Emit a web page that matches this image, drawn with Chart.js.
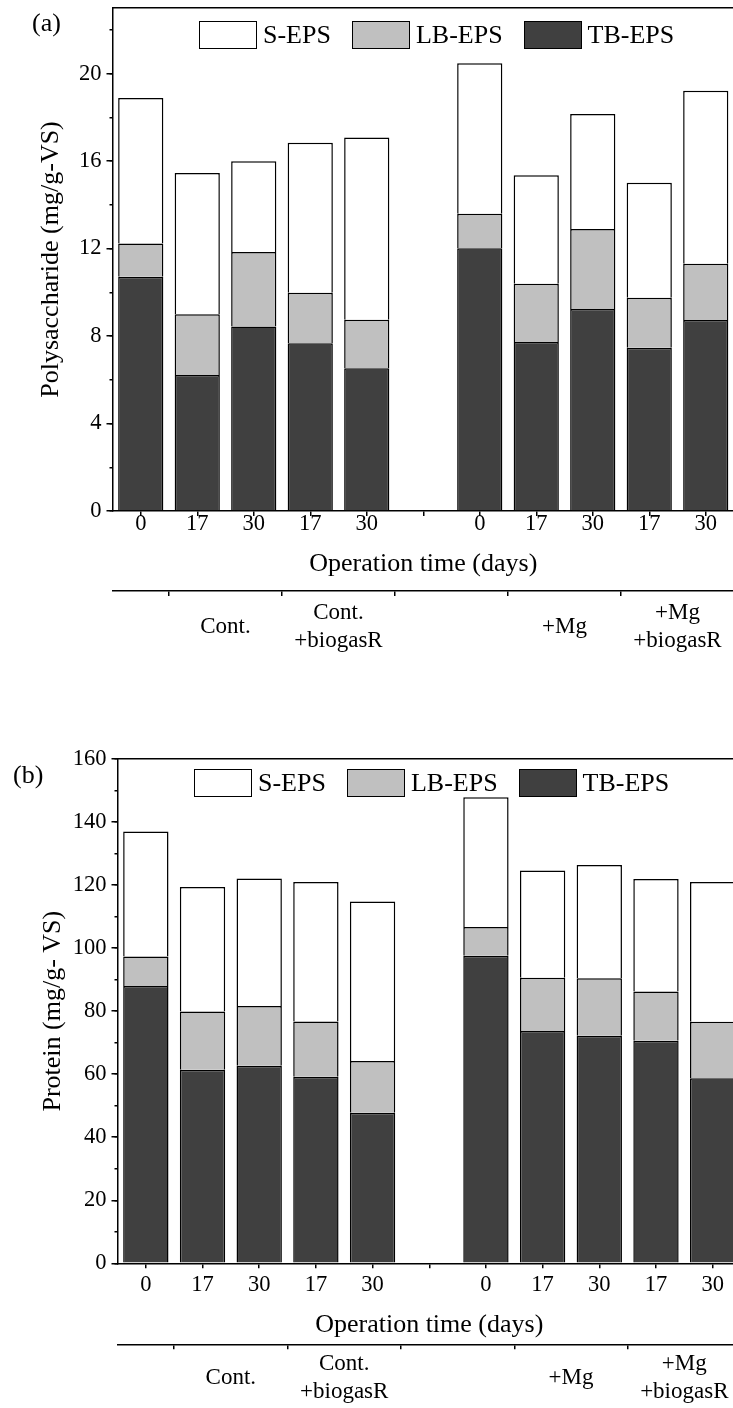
<!DOCTYPE html>
<html>
<head>
<meta charset="utf-8">
<script src="https://cdn.jsdelivr.net/npm/chart.js@4/dist/chart.umd.min.js"></script>
<style>
  html, body { margin: 0; padding: 0; background: #fff; }
  body { width: 733px; height: 1408px; overflow: hidden; position: relative; }
  .panel { position: absolute; left: 0; }
  .panel canvas { position: absolute; left: 0; top: 0; }
  .tag { position: absolute; font: 26px "Liberation Serif", "Times New Roman", serif; line-height: 30px; color: #000; }
  .legend { position: absolute; display: flex; align-items: center; white-space: nowrap;
            font: 26px "Liberation Serif", "Times New Roman", serif; color: #000; line-height: 28px; }
  .legend .item { display: flex; align-items: center; margin-right: 21px; }
  .legend .box { width: 58px; height: 28px; box-sizing: border-box; border-style: solid; margin-right: 6px; }
</style>
</head>
<body>
<div class="panel" id="panelA" style="top:0; width:734px; height:670px;">
  <canvas id="chartA" width="734" height="670"></canvas>
  <div class="legend" id="legendA"></div>
  <div class="tag" style="left:32px; top:8px;">(a)</div>
</div>
<div class="panel" id="panelB" style="top:740px; width:741px; height:668px;">
  <canvas id="chartB" width="741" height="668"></canvas>
  <div class="legend" id="legendB"></div>
  <div class="tag" style="left:13px; top:20px;">(b)</div>
</div>
<script>
// Operation time (days) for each bar; the empty slot separates the two series of reactors
const dayLabels = ['0', '17', '30', '17', '30', '', '0', '17', '30', '17', '30'];

// EPS fractions, stacked bottom to top: TB-EPS, LB-EPS, S-EPS
const seriesNames = ['TB-EPS', 'LB-EPS', 'S-EPS'];
const seriesColors = ['#404040', '#c0c0c0', '#ffffff'];

// Polysaccharide (mg/g-VS)
const polyTB = [10.71, 6.22, 8.44, 7.67, 6.53, null, 12.02, 7.73, 9.24, 7.46, 8.73];
const polyLB = [1.52, 2.78, 3.40, 2.31, 2.21, null, 1.57, 2.66, 3.65, 2.29, 2.57];
const polyS  = [6.66, 6.45, 4.15, 6.86, 8.34, null, 6.88, 4.96, 5.26, 5.26, 7.92];

// Protein (mg/g-VS)
const protTB = [88.0, 61.4, 62.7, 59.2, 47.8, null, 97.6, 73.7, 72.2, 70.6, 58.7];
const protLB = [9.3, 18.5, 18.9, 17.5, 16.4, null, 9.1, 16.9, 18.2, 15.6, 17.9];
const protS  = [39.7, 39.5, 40.5, 44.3, 50.6, null, 41.2, 34.0, 36.0, 35.7, 44.4];

// Reactor groups under the day axis: label and first/last bar index
const groupLabels = ['Cont.', ['Cont.', '+biogasR'], '+Mg', ['+Mg', '+biogasR']];
const groupFirst = [1, 3, 7, 9];
const groupLast  = [2, 4, 8, 10];

const FONT = '"Liberation Serif", "Times New Roman", serif';
const INK = '#000';
Chart.defaults.font.family = FONT;
Chart.defaults.color = INK;

const groupCenters = groupFirst.map((f, i) => (f + groupLast[i]) / 2);
const groupEdges = [...new Set(groupFirst.map(f => f - 0.5).concat(groupLast.map(l => l + 0.5)))].sort((a, b) => a - b);

function zeroPad(s) { s.paddingLeft = 0; s.paddingRight = 0; s.paddingTop = 0; s.paddingBottom = 0; }

function makeChart(canvasId, legendId, cfg) {
  const datasets = [cfg.tb, cfg.lb, cfg.s].map((vals, i) => ({
    label: seriesNames[i],
    data: vals,
    backgroundColor: seriesColors[i],
    borderColor: INK,
    borderWidth: 1.5,
    borderSkipped: 'start',
    xAxisID: 'x',
    yAxisID: 'y',
    barPercentage: 1.0,
    categoryPercentage: 0.8
  }));

  const chart = new Chart(document.getElementById(canvasId), {
    type: 'bar',
    data: { labels: dayLabels, datasets },
    options: {
      responsive: false,
      animation: false,
      layout: { padding: cfg.layoutPadding },
      plugins: { legend: { display: false }, tooltip: { enabled: false } },
      scales: {
        x: {
          type: 'category', position: 'bottom', stacked: true, offset: true, weight: 0,
          ticks: { font: { size: 22.5, lineHeight: 1.2 }, color: INK, padding: cfg.xTickPad,
                   maxRotation: 0, minRotation: 0, autoSkip: false },
          grid: { offset: false, drawOnChartArea: false, drawTicks: true, tickLength: 5,
                  color: INK, lineWidth: 1.5 },
          border: { display: true, color: INK, width: 1.5 },
          title: { display: true, text: 'Operation time (days)', color: INK,
                   font: { size: 26, lineHeight: 1.2 }, padding: { top: 0, bottom: cfg.xTitlePad } },
          afterFit: s => { s.height = cfg.xAxisHeight; zeroPad(s); }
        },
        xGroup: {
          // same -0.5 .. 10.5 span as the bar categories, so group edges fall between bars
          type: 'linear', position: 'bottom', weight: 1, min: -0.5, max: 10.5, offset: false,
          afterBuildTicks: s => {
            s.ticks = groupEdges.concat(groupCenters).sort((a, b) => a - b).map(v => ({ value: v }));
          },
          ticks: {
            callback: v => { const k = groupCenters.indexOf(v); return k >= 0 ? groupLabels[k] : ''; },
            font: { size: 23, lineHeight: 1.2 }, color: INK, padding: cfg.groupTickPad,
            maxRotation: 0, minRotation: 0, autoSkip: false, crossAlign: 'center'
          },
          grid: { offset: false, drawOnChartArea: false, drawTicks: true, tickLength: 5, lineWidth: 1.5, color: INK,
                  tickColor: c => (c.tick && groupEdges.includes(c.tick.value)) ? INK : 'rgba(0,0,0,0)' },
          border: { display: true, color: INK, width: 1.5 },
          afterFit: s => { s.height = cfg.groupAxisHeight; zeroPad(s); }
        },
        xTop: {
          type: 'category', position: 'top',
          ticks: { display: false },
          grid: { drawOnChartArea: false, drawTicks: false },
          border: { display: true, color: INK, width: 1.5 },
          afterFit: s => { s.height = 0; zeroPad(s); }
        },
        y: {
          type: 'linear', position: 'left', stacked: true, weight: 1, min: 0, max: cfg.yMax,
          ticks: { stepSize: cfg.yStep, includeBounds: false, font: { size: 22.5 }, color: INK, padding: 5 },
          grid: { drawOnChartArea: false, drawTicks: true, tickLength: 6, color: INK, lineWidth: 1.5 },
          border: { display: true, color: INK, width: 1.5 },
          title: { display: true, text: cfg.yTitle, color: INK,
                   font: { size: 26, lineHeight: 1.2 }, padding: { top: cfg.yTitlePad, bottom: 0 } },
          afterFit: s => { s.width = cfg.axisLeft; zeroPad(s); }
        },
        yMinor: {
          type: 'linear', position: 'left', weight: 0, min: 0, max: cfg.yMax,
          ticks: { stepSize: cfg.yMinorStep, includeBounds: false, display: false },
          grid: { drawOnChartArea: false, drawTicks: true, tickLength: 3, color: INK, lineWidth: 1.5 },
          border: { display: false },
          afterFit: s => { s.width = 0; zeroPad(s); }
        }
      }
    }
  });

  // HTML legend built from the chart's own legend items, placed inside the plot area
  const el = document.getElementById(legendId);
  const items = chart.options.plugins.legend.labels.generateLabels(chart).slice().reverse();
  items.forEach(it => {
    const item = document.createElement('span');
    item.className = 'item';
    const box = document.createElement('span');
    box.className = 'box';
    box.style.background = it.fillStyle;
    box.style.borderColor = it.strokeStyle;
    box.style.borderWidth = it.lineWidth + 'px';
    const txt = document.createElement('span');
    txt.textContent = it.text;
    item.appendChild(box);
    item.appendChild(txt);
    el.appendChild(item);
  });
  el.style.left = (chart.chartArea.left + cfg.legendDx) + 'px';
  el.style.top = (chart.chartArea.top + cfg.legendDy) + 'px';
  return chart;
}

makeChart('chartA', 'legendA', {
  tb: polyTB, lb: polyLB, s: polyS,
  yMax: 23, yStep: 4, yMinorStep: 2,
  yTitle: 'Polysaccharide (mg/g-VS)',
  layoutPadding: { top: 8, left: 0, right: 0, bottom: 9 },
  axisLeft: 112.5, yTitlePad: 36,
  xAxisHeight: 80, xTickPad: -5, xTitlePad: 11.4,
  groupAxisHeight: 70, groupTickPad: 17,
  legendDx: 86.5, legendDy: 13
});

makeChart('chartB', 'legendB', {
  tb: protTB, lb: protLB, s: protS,
  yMax: 160, yStep: 20, yMinorStep: 10,
  yTitle: 'Protein (mg/g- VS)',
  layoutPadding: { top: 19, left: 0, right: 0, bottom: 0 },
  axisLeft: 117.5, yTitlePad: 38,
  xAxisHeight: 81, xTickPad: 3, xTitlePad: 3.7,
  groupAxisHeight: 63.7, groupTickPad: 15,
  legendDx: 76.5, legendDy: 10
});
</script>
</body>
</html>
